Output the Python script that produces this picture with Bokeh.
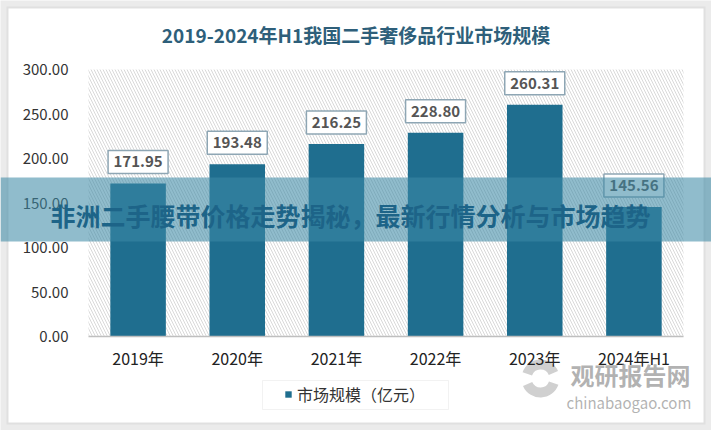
import math
from bokeh.plotting import figure
from bokeh.models import (Range1d, FixedTicker, NumeralTickFormatter, LinearAxis,
                          BoxAnnotation, Label, Legend, LegendItem, ColumnDataSource)
from bokeh.core.properties import value
from bokeh.embed import file_html
from bokeh.resources import INLINE

# ---- data ----
categories = ["2019年", "2020年", "2021年", "2022年", "2023年", "2024年H1"]
market_size = [171.95, 193.48, 216.25, 228.80, 260.31, 145.56]
y_ticks = [0, 50, 100, 150, 200, 250, 300]
title_text = "2019-2024年H1我国二手奢侈品行业市场规模"
series_name = "市场规模（亿元）"
banner_text = "非洲二手腰带价格走势揭秘，最新行情分析与市场趋势"
watermark_cn = "观研报告网"
watermark_en = "chinabaogao.com"

# ---- layout (page pixels) ----
FONT = "Noto Sans CJK SC"
BAR = "#1f6e8f"
W, H = 711, 430
PLOT_L, PLOT_R = 88, 683       # hatched plot area, left/right
Y_BASE, Y_TOP = 336, 69        # pixel rows of 0 and of the top tick
Y_MAX = y_ticks[-1]

n = len(categories)
x_unit = (PLOT_R - PLOT_L) / n
y_unit = (Y_BASE - Y_TOP) / Y_MAX

xs = [i + 0.5 for i in range(n)]
label_y = [v + 21.5 / y_unit for v in market_size]
label_text = ["%.2f" % v for v in market_size]
source = ColumnDataSource(dict(x=xs, val=market_size, ly=label_y, lt=label_text))

p = figure(width=W, height=H,
           x_range=Range1d(-PLOT_L / x_unit, n + (W - PLOT_R) / x_unit),
           y_range=Range1d(-(H - Y_BASE) / y_unit, Y_MAX + Y_TOP / y_unit),
           x_axis_type=None, y_axis_type=None,
           output_backend="svg", toolbar_location=None,
           min_border=0, min_border_left=0, min_border_right=0,
           min_border_top=0, min_border_bottom=0)
p.background_fill_color = "#ebebeb"
p.border_fill_color = "#ebebeb"
p.outline_line_color = None
p.grid.visible = False

# card (white panel with a faint shadow)
p.add_layout(BoxAnnotation(left=6, right=705, top=6, bottom=424,
                           left_units="canvas", right_units="canvas",
                           top_units="canvas", bottom_units="canvas",
                           fill_color="#e0e0e0", fill_alpha=1, line_alpha=0,
                           level="underlay"))
p.add_layout(BoxAnnotation(left=8, right=703, top=8, bottom=422,
                           left_units="canvas", right_units="canvas",
                           top_units="canvas", bottom_units="canvas",
                           fill_color="white", fill_alpha=1, line_alpha=0,
                           level="underlay"))
# hatched plot background
p.add_layout(BoxAnnotation(left=0, right=n, bottom=0, top=Y_MAX,
                           fill_alpha=0, line_alpha=0, hatch_pattern="\\",
                           hatch_color="#d9d9d9", hatch_scale=6, hatch_weight=1,
                           level="underlay"))

bars = p.vbar(x="x", top="val", width=0.56, source=source,
              fill_color=BAR, line_color=None)

# value labels in boxes
p.rect(x="x", y="ly", width=60, height=23, width_units="screen", height_units="screen",
       fill_color="white", line_color="#8ea6b4", line_width=1.5, source=source)
p.text(x="x", y="ly", text="lt", text_align="center", text_baseline="middle",
       text_font=value(FONT), text_font_style="bold", text_font_size="15px",
       text_color="#555555", source=source)

# axes
xaxis = LinearAxis(fixed_location=0, bounds=(0, n),
                   ticker=FixedTicker(ticks=xs),
                   major_label_overrides={x: c for x, c in zip(xs, categories)})
xaxis.axis_line_color = "#bfbfbf"
xaxis.axis_line_width = 1.5
xaxis.major_tick_line_color = None
xaxis.minor_tick_line_color = None
xaxis.major_tick_out = 0
xaxis.major_tick_in = 0
xaxis.major_label_text_font = FONT
xaxis.major_label_text_font_size = "16px"
xaxis.major_label_text_color = "#222222"
xaxis.major_label_standoff = 9
p.add_layout(xaxis, "below")

yaxis = LinearAxis(fixed_location=0, ticker=FixedTicker(ticks=y_ticks),
                   formatter=NumeralTickFormatter(format="0.00"))
yaxis.axis_line_color = None
yaxis.major_tick_line_color = None
yaxis.minor_tick_line_color = None
yaxis.major_tick_out = 0
yaxis.major_tick_in = 0
yaxis.major_label_text_font = FONT
yaxis.major_label_text_font_size = "15px"
yaxis.major_label_text_color = "#333333"
yaxis.major_label_standoff = 20
p.add_layout(yaxis, "left")

# title
p.add_layout(Label(x=W / 2, y=H - 34, x_units="screen", y_units="screen",
                   text=title_text, text_align="center", text_baseline="middle",
                   text_font=FONT, text_font_style="bold", text_font_size="19px",
                   text_color="#2e5f7a"))

# legend (box drawn separately to get its roomy look)
p.add_layout(BoxAnnotation(left=262, right=448, top=380, bottom=409,
                           left_units="canvas", right_units="canvas",
                           top_units="canvas", bottom_units="canvas",
                           fill_color="white", fill_alpha=1,
                           line_color="#d5d5d5", line_width=1))
legend = Legend(items=[LegendItem(label=series_name, renderers=[bars])],
                location=(284, 24), padding=0, margin=0, label_height=16,
                glyph_width=8, glyph_height=8, label_standoff=5,
                label_text_font=FONT, label_text_font_size="16px",
                label_text_color="#333333", border_line_alpha=0,
                background_fill_alpha=0)
p.add_layout(legend)

# watermark
logo_x = (540 - PLOT_L) / x_unit
logo_y = (Y_BASE - 378) / y_unit
p.annular_wedge(x=[logo_x, logo_x], y=[logo_y, logo_y], inner_radius=9, outer_radius=19,
                inner_radius_units="screen", outer_radius_units="screen",
                start_angle=[0.4, math.pi + 0.4], end_angle=[2.8, math.pi + 2.8],
                fill_color="#c4c4c4", fill_alpha=0.8, line_color=None)
p.add_layout(Label(x=570, y=H - 374, x_units="screen", y_units="screen", text=watermark_cn,
                   text_font=FONT, text_font_style="bold", text_font_size="24px",
                   text_color="#999999", text_alpha=0.75, text_baseline="middle"))
p.add_layout(Label(x=566, y=H - 402, x_units="screen", y_units="screen", text=watermark_en,
                   text_font=FONT, text_font_size="15px",
                   text_color="#999999", text_alpha=0.75, text_baseline="middle"))

# banner
p.add_layout(BoxAnnotation(top=177, bottom=241, top_units="canvas", bottom_units="canvas",
                           fill_color="#3b8aa5", fill_alpha=0.57, line_alpha=0,
                           level="overlay"))
p.add_layout(Label(x=350, y=H - 214, x_units="screen", y_units="screen",
                   text=banner_text, text_align="center", text_baseline="middle",
                   text_font=FONT, text_font_style="bold", text_font_size="25px",
                   text_color="#1d6488", level="overlay"))

open("out.html", "w").write(file_html(p, INLINE))
